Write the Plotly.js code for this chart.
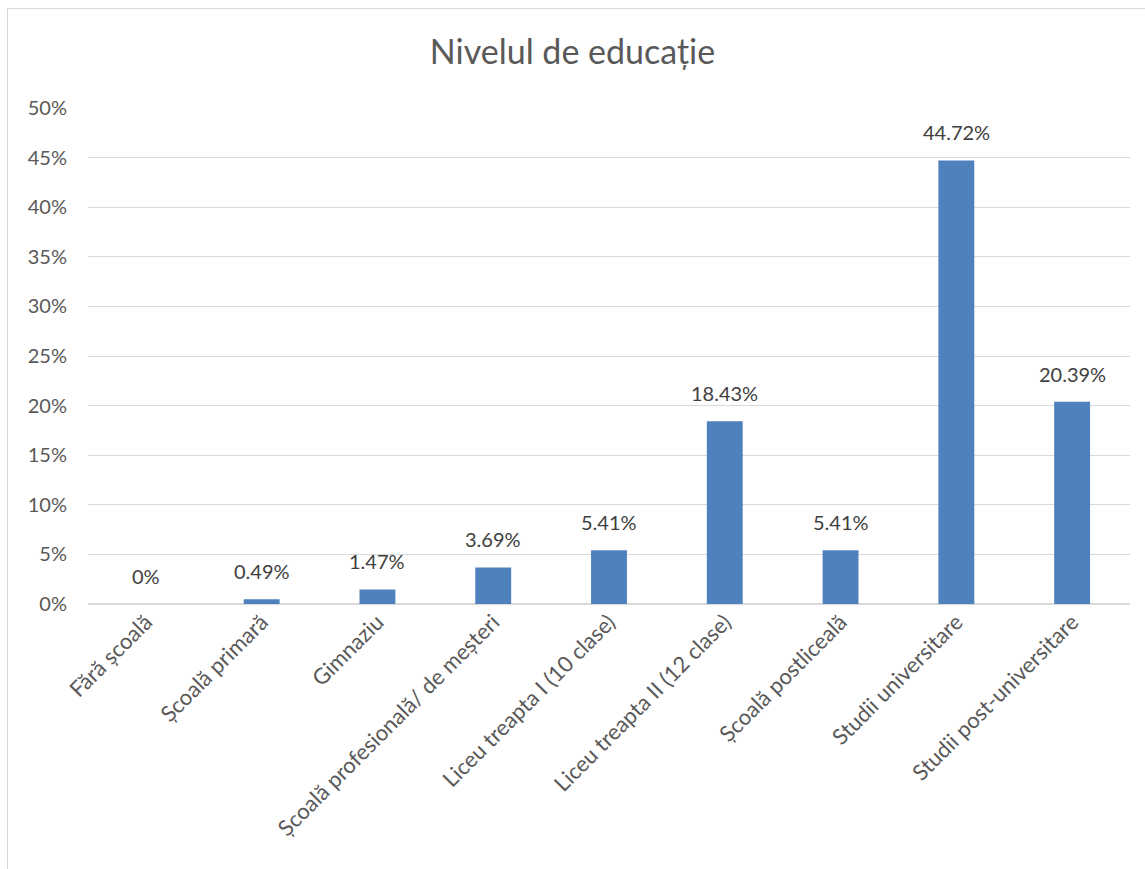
<!DOCTYPE html>
<html>
<head>
<meta charset="utf-8">
<script src="https://cdn.plot.ly/plotly-3.0.1.min.js"></script>
<style>
html,body{margin:0;padding:0;background:#fff;}
#chart{position:absolute;left:0;top:0;width:1145px;height:869px;}
#frame{position:absolute;left:7px;top:8px;width:1200px;height:900px;border:1.5px solid #d9d9d9;pointer-events:none;}
</style>
</head>
<body>
<div id="chart"></div>
<div id="frame"></div>
<script>
const categories = ["Fără școală","Școală primară","Gimnaziu","Școală profesională/ de meșteri","Liceu treapta I (10 clase)","Liceu treapta II (12 clase)","Școală postliceală","Studii universitare","Studii post-universitare"];
const values = [0, 0.49, 1.47, 3.69, 5.41, 18.43, 5.41, 44.72, 20.39];
const labels = values.map(v => v === 0 ? "0%" : v.toFixed(2) + "%");
const tickVals = [0,5,10,15,20,25,30,35,40,45,50];
const tickText = tickVals.map(v => v + "%");

const font = "Lato, 'Open Sans', sans-serif";
const annotations = categories.map((c, i) => ({
  x: c, y: values[i], xref: "x", yref: "y",
  text: labels[i], showarrow: false, yanchor: "bottom", yshift: 14,
  font: {family: font, size: 20, color: "#404040"}
}));

Plotly.newPlot("chart", [{
  type: "bar",
  x: categories,
  y: values,
  marker: {color: "#4f81bd"},
  hoverinfo: "skip"
}], {
  width: 1145, height: 869,
  margin: {l: 88, r: 15, t: 108, b: 265},
  paper_bgcolor: "#fff", plot_bgcolor: "#fff",
  bargap: 0.69,
  annotations: annotations,
  title: {text: "Nivelul de educație", font: {family: font, size: 34, color: "#595959"}, x: 0.5, xanchor: "center", y: 0.94, yanchor: "middle"},
  xaxis: {tickangle: -45, tickfont: {family: font, size: 22, color: "#595959"}, showgrid: false, showline: false, ticks: "", automargin: false},
  yaxis: {range: [0, 50], tickvals: tickVals, ticktext: tickText, tickfont: {family: font, size: 20, color: "#595959"}, gridcolor: "#d9d9d9", gridwidth: 1, zeroline: true, zerolinecolor: "#d9d9d9", zerolinewidth: 1.5, showline: false, ticks: "", ticklabelstandoff: 20, automargin: false},
  showlegend: false
}, {displayModeBar: false, staticPlot: true});
</script>
</body>
</html>
